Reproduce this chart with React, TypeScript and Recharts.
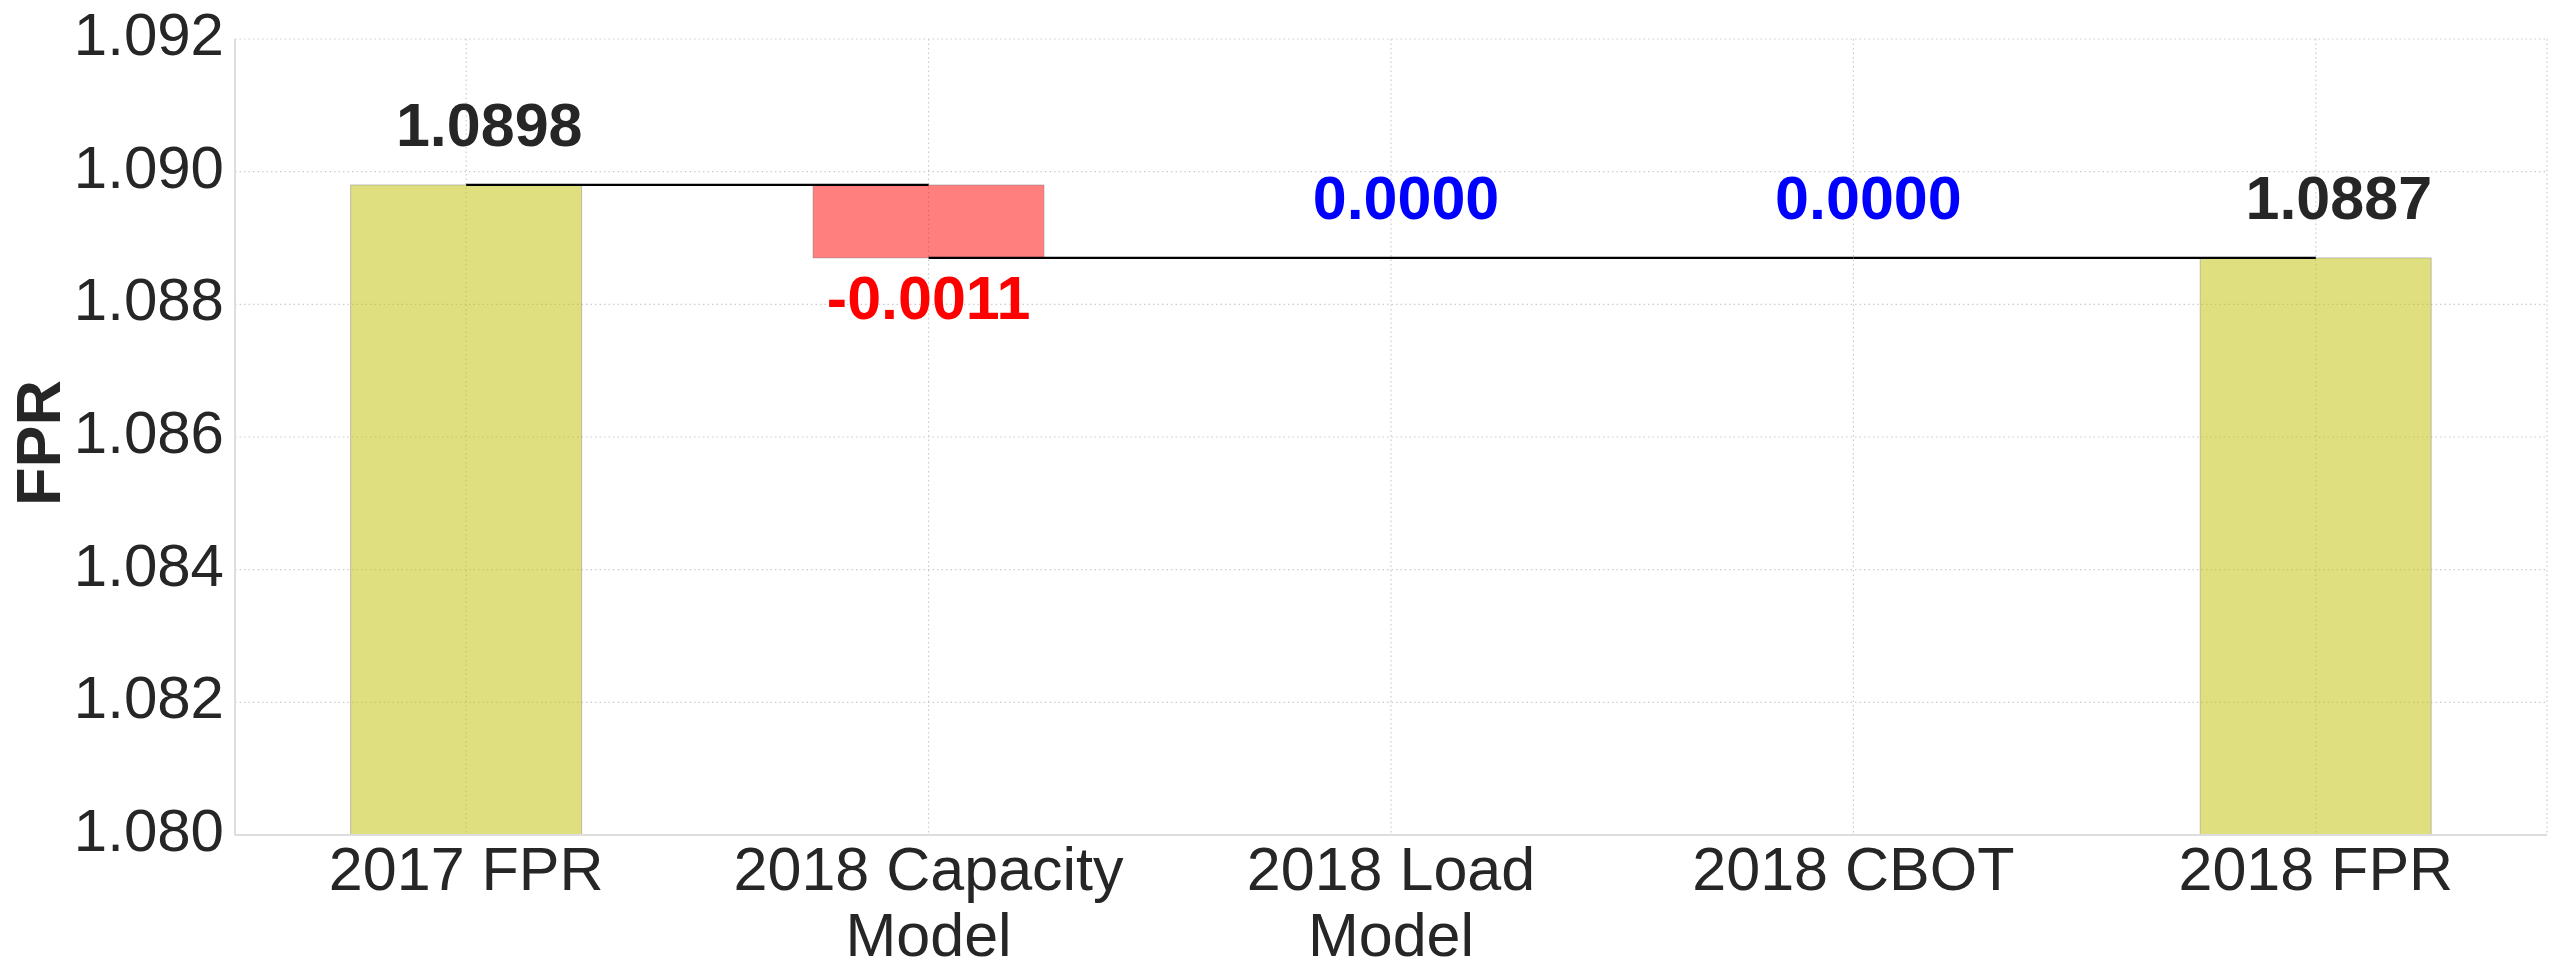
import React from 'react';
import { ComposedChart, Bar, Line, XAxis, YAxis, CartesianGrid, Cell, LabelList } from 'recharts';

const categories = ['2017 FPR', '2018 Capacity\nModel', '2018 Load\nModel', '2018 CBOT', '2018 FPR'];
const stepValues = [1.0898, -0.0011, 0.0, 0.0, 1.0887];
const stepKinds = ['total', 'delta', 'delta', 'delta', 'total'];
const yTicks = [1.08, 1.082, 1.084, 1.086, 1.088, 1.09, 1.092];
const yDomain: [number, number] = [1.08, 1.092];
const yAxisTitle = 'FPR';

const FONT = '"Liberation Sans", Arial, Helvetica, sans-serif';
const TEXT = '#262626';
const BORDER = '#dddddd';

type Row = {
  name: string;
  kind: string;
  value: number;
  range: [number, number];
  level: number;
  anchor: number;
  [k: string]: any;
};

const rows: Row[] = (() => {
  let running = 0;
  const out: Row[] = categories.map((name, i) => {
    const v = stepValues[i];
    const kind = stepKinds[i];
    let low: number;
    let high: number;
    let anchor: number;
    if (kind === 'total') {
      low = yDomain[0];
      high = v;
      running = v;
      anchor = high;
    } else {
      const before = running;
      const after = +(running + v).toFixed(6);
      low = Math.min(before, after);
      high = Math.max(before, after);
      running = after;
      anchor = v < 0 ? low : high;
    }
    return { name, kind, value: v, range: [low, high], level: running, anchor };
  });
  // connector segments: from category i to i+1 at level after bar i
  for (let i = 0; i < out.length - 1; i++) {
    out.forEach((r, j) => {
      r[`conn${i}`] = j === i || j === i + 1 ? out[i].level : null;
    });
  }
  return out;
})();

const connectorKeys = rows.slice(0, -1).map((_, i) => `conn${i}`);

const barFill = (r: Row) => {
  if (r.kind === 'total') return 'rgb(191,191,0)';
  if (r.value < 0) return 'rgb(255,0,0)';
  return 'rgb(0,160,0)';
};

const labelColor = (r: Row) => {
  if (r.kind === 'total') return TEXT;
  if (r.value < 0) return '#ff0000';
  return '#0000ff';
};

const XTick = (props: any) => {
  const { x, y, payload } = props;
  const lines = String(payload.value).split('\n');
  return (
    <text x={x} y={y} textAnchor="middle" fontSize={61} fill={TEXT} fontFamily={FONT}>
      {lines.map((l, i) => (
        <tspan key={i} x={x} dy={i === 0 ? 55 : 66}>
          {l}
        </tspan>
      ))}
    </text>
  );
};

const YTick = (props: any) => {
  const { x, y, payload } = props;
  return (
    <text x={x - 11} y={y} dy={16} textAnchor="end" fontSize={60} fill={TEXT} fontFamily={FONT}>
      {Number(payload.value).toFixed(3)}
    </text>
  );
};

const ValueLabel = (props: any) => {
  const { x, y, index } = props;
  const r = rows[index];
  if (!r || x == null || y == null) return null;
  const below = r.kind !== 'total' && r.value < 0;
  const dx = r.kind === 'total' ? 23 : below ? 0 : 15;
  const ty = below ? y + 61 : y - 39;
  return (
    <text
      x={x + dx}
      y={ty}
      textAnchor="middle"
      fontSize={61}
      fontWeight="bold"
      fill={labelColor(r)}
      fontFamily={FONT}
    >
      {r.value.toFixed(4)}
    </text>
  );
};

const YTitle = (props: any) => {
  const vb = props.viewBox || {};
  const cx = (vb.x ?? 0) + 60;
  const cy = (vb.y ?? 0) + (vb.height ?? 0) / 2 + 6;
  return (
    <text
      x={cx}
      y={cy}
      transform={`rotate(-90, ${cx}, ${cy})`}
      textAnchor="middle"
      fontSize={63}
      fontWeight="bold"
      fill={TEXT}
      fontFamily={FONT}
    >
      {yAxisTitle}
    </text>
  );
};

export default function App() {
  return (
    <div style={{ position: 'absolute', left: 0, top: 0, background: '#fff' }}>
      <ComposedChart
        width={2549}
        height={962}
        data={rows}
        margin={{ top: 39, right: 2, bottom: 0, left: 0 }}
        barCategoryGap="25%"
      >
        <CartesianGrid stroke="#cccccc" strokeDasharray="1.5 3" strokeWidth={1.2} />
        <XAxis
          dataKey="name"
          interval={0}
          tickLine={false}
          tickSize={0}
          tickMargin={0}
          height={127}
          axisLine={{ stroke: BORDER, strokeWidth: 2 }}
          tick={<XTick />}
        />
        <XAxis
          xAxisId="top"
          orientation="top"
          dataKey="name"
          height={0}
          tick={false}
          tickLine={false}
          axisLine={{ stroke: BORDER, strokeWidth: 2 }}
        />
        <YAxis
          type="number"
          domain={yDomain}
          ticks={yTicks}
          width={235}
          tickLine={false}
          tickSize={0}
          tickMargin={0}
          axisLine={{ stroke: BORDER, strokeWidth: 2 }}
          tick={<YTick />}
          label={<YTitle />}
          interval={0}
        />
        <YAxis
          yAxisId="right"
          orientation="right"
          type="number"
          domain={yDomain}
          width={0}
          tick={false}
          tickLine={false}
          axisLine={{ stroke: BORDER, strokeWidth: 2 }}
        />
        <Bar dataKey="range" isAnimationActive={false}>
          {rows.map((r, i) => (
            <Cell
              key={i}
              fill={barFill(r)}
              fillOpacity={0.5}
              stroke="#808080"
              strokeOpacity={0.45}
              strokeWidth={1}
            />
          ))}
        </Bar>
        {connectorKeys.map((k) => (
          <Line
            key={k}
            dataKey={k}
            type="linear"
            stroke="#000000"
            strokeWidth={2.2}
            dot={false}
            activeDot={false}
            connectNulls={false}
            isAnimationActive={false}
          />
        ))}
        <Line
          dataKey="anchor"
          stroke="none"
          dot={false}
          activeDot={false}
          isAnimationActive={false}
        >
          <LabelList dataKey="anchor" content={<ValueLabel />} />
        </Line>
      </ComposedChart>
    </div>
  );
}
